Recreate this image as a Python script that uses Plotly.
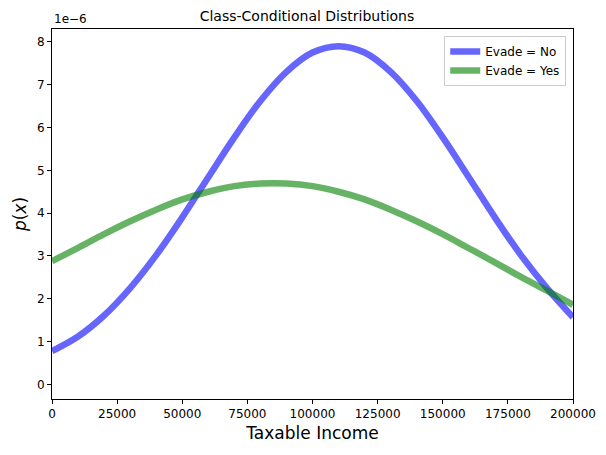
import plotly.graph_objects as go

# Taxable income grid and class-conditional densities (values in units of 1e-6)
income = [0, 10000, 20000, 30000, 40000, 50000, 60000, 70000, 80000, 90000, 100000,
          110000, 120000, 130000, 140000, 150000, 160000, 170000, 180000, 190000, 200000]
p_no = [0.78, 1.12, 1.61, 2.25, 3.02, 3.90, 4.84, 5.77, 6.62, 7.30, 7.75,
        7.90, 7.75, 7.30, 6.62, 5.77, 4.84, 3.90, 3.02, 2.25, 1.57]
p_yes = [2.88, 3.19, 3.51, 3.81, 4.08, 4.32, 4.50, 4.63, 4.69, 4.69, 4.63,
         4.50, 4.32, 4.08, 3.81, 3.51, 3.18, 2.85, 2.51, 2.19, 1.86]
x_ticks = [0, 25000, 50000, 75000, 100000, 125000, 150000, 175000, 200000]
y_ticks = [0, 1, 2, 3, 4, 5, 6, 7, 8]

W, H = 598, 447  # page body has an 8px margin

fig = go.Figure()
fig.add_trace(go.Scatter(x=income, y=p_no, mode="lines", name="Evade = No",
                         line=dict(color="rgba(0,0,255,0.6)", width=6.5, shape="spline")))
fig.add_trace(go.Scatter(x=income, y=p_yes, mode="lines", name="Evade = Yes",
                         line=dict(color="rgba(0,128,0,0.6)", width=6.5, shape="spline")))

axis_common = dict(showline=True, linecolor="black", linewidth=1, mirror=True,
                   ticks="outside", ticklen=4, tickcolor="black", showgrid=False,
                   zeroline=False, automargin=False, tickfont=dict(size=12, color="black"))

fig.update_layout(
    width=W, height=H,
    paper_bgcolor="white", plot_bgcolor="white",
    font=dict(family="DejaVu Sans", color="black"),
    margin=dict(l=44, r=33, t=21, b=56),
    title=dict(text="Class-Conditional Distributions", x=0.5, xanchor="center",
               y=1 - 8 / H, yanchor="middle", font=dict(size=14)),
    xaxis=dict(range=[0, 200000], tickvals=x_ticks, ticktext=[str(v) for v in x_ticks],
               title=dict(text="Taxable Income", font=dict(size=17), standoff=6), **axis_common),
    yaxis=dict(range=[-0.34, 8.30], tickvals=y_ticks,
               title=dict(text="<i>p</i>(<i>x</i>)", font=dict(size=17), standoff=6), **axis_common),
    legend=dict(x=0.987, y=0.981, xanchor="right", yanchor="top",
                bordercolor="#cccccc", borderwidth=1, bgcolor="rgba(255,255,255,0.8)",
                font=dict(size=12), tracegroupgap=0),
    annotations=[dict(text="1e\u22126", xref="paper", yref="paper", x=0, y=1,
                      xanchor="left", yanchor="bottom", yshift=1, showarrow=False,
                      font=dict(size=12))],
)

fig.write_html("out.html")
